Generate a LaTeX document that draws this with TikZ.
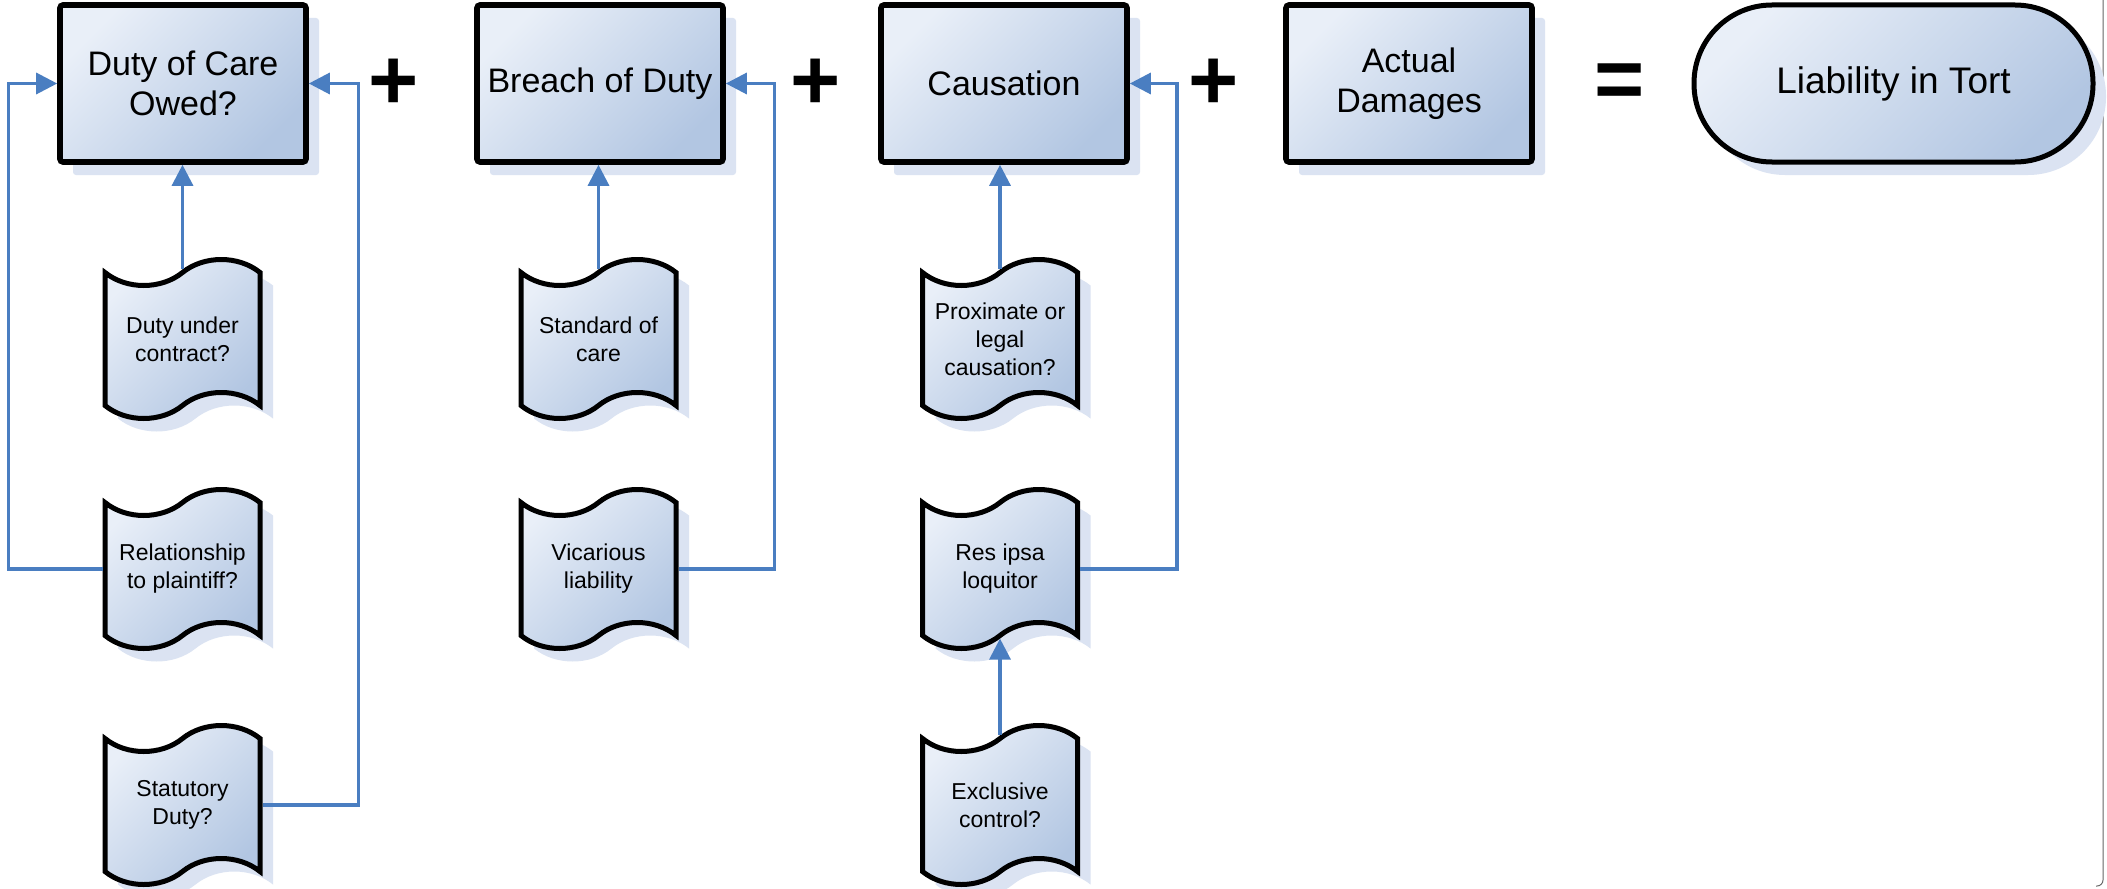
\documentclass[tikz,border=0pt]{standalone}
\usepackage{fontspec}
\setmainfont{Liberation Sans}
\usetikzlibrary{shapes.symbols,shadows,arrows.meta}
\definecolor{lightb}{RGB}{233,239,248}
\definecolor{darkb}{RGB}{178,198,226}
\definecolor{shadowb}{RGB}{219,227,242}
\definecolor{connb}{RGB}{74,126,193}
\begin{document}
\begin{tikzpicture}[x=0.5pt,y=-0.5pt,
  sh/.style={drop shadow={shadow xshift=6.5pt,shadow yshift=-6.5pt,fill=shadowb,opacity=1}},
  grad/.style={top color=lightb,bottom color=darkb,shading angle=45},
  mainbox/.style={rectangle,rounded corners=1.5pt,draw=black,line width=2.8pt,
    minimum width=123pt,minimum height=78.5pt,grad,sh,align=center,
    font=\fontsize{17}{20}\selectfont,inner sep=2pt},
  docbox/.style={tape,tape bend top=in and out,tape bend bottom=in and out,
    tape bend height=13pt,draw=black,line width=2.5pt,minimum width=77.5pt,
    minimum height=79.5pt,grad,sh,align=center,font=\fontsize{11.5}{14}\selectfont,inner sep=2pt},
  termbox/.style={rectangle,rounded corners=39pt,draw=black,line width=2.5pt,
    minimum width=199.5pt,minimum height=78.5pt,grad,sh,align=center,
    font=\fontsize{18.5}{22}\selectfont},
  op/.style={font=\bfseries\fontsize{43}{43}\selectfont,inner sep=0pt},
  conn/.style={draw=connb,line width=1.6pt,-{Triangle[length=10.5pt,width=10.5pt]}}
]
\useasboundingbox (0,0) rectangle (2107,888);
\fill[white] (0,0) rectangle (2107,888);
\draw[black!60,line width=0.5pt,rounded corners=3pt] (2103,0) -- (2103,886) -- (2096,886);

% top row
\node[mainbox] (b1) at (183,83.5) {Duty of Care\\Owed?};
\node[mainbox] (b2) at (600,83.5) {Breach of Duty};
\node[mainbox] (b3) at (1004,83.5) {Causation};
\node[mainbox] (b4) at (1409,83.5) {Actual\\Damages};
\node[termbox] (t) at (1893.5,83.5) {Liability in Tort};

\node[op] (p1) at (394,84) {+};
\node[op] (p2) at (816,84) {+};
\node[op] (p3) at (1214,84) {+};
\node[op] (eq) at (1620,86) {=};

% documents
\node[docbox] (d1) at (182.5,339) {Duty under\\contract?};
\node[docbox] (r1) at (182.5,569) {Relationship\\to plaintiff?};
\node[docbox] (s1) at (182.5,805) {Statutory\\Duty?};
\node[docbox] (d2) at (598.5,339) {Standard of\\care};
\node[docbox] (v2) at (598.5,569) {Vicarious\\liability};
\node[docbox] (d3) at (1000,339) {Proximate or\\legal\\causation?};
\node[docbox] (r3) at (1000,569) {Res ipsa\\loquitor};
\node[docbox] (e3) at (1000,805) {Exclusive\\control?};

% connectors
\draw[conn] (d1.north) -- (d1.north |- b1.south);
\draw[conn] (r1.west) -- ++(-94,0) |- (b1.west);
\draw[conn] (s1.east) -- ++(96,0) |- (b1.east);
\draw[conn] (d2.north) -- (d2.north |- b2.south);
\draw[conn] (v2.east) -- ++(96,0) |- (b2.east);
\draw[conn] (d3.north) -- (d3.north |- b3.south);
\draw[conn] (r3.east) -- ++(97,0) |- (b3.east);
\draw[conn] (e3.north) -- (r3.south);
\end{tikzpicture}
\end{document}
